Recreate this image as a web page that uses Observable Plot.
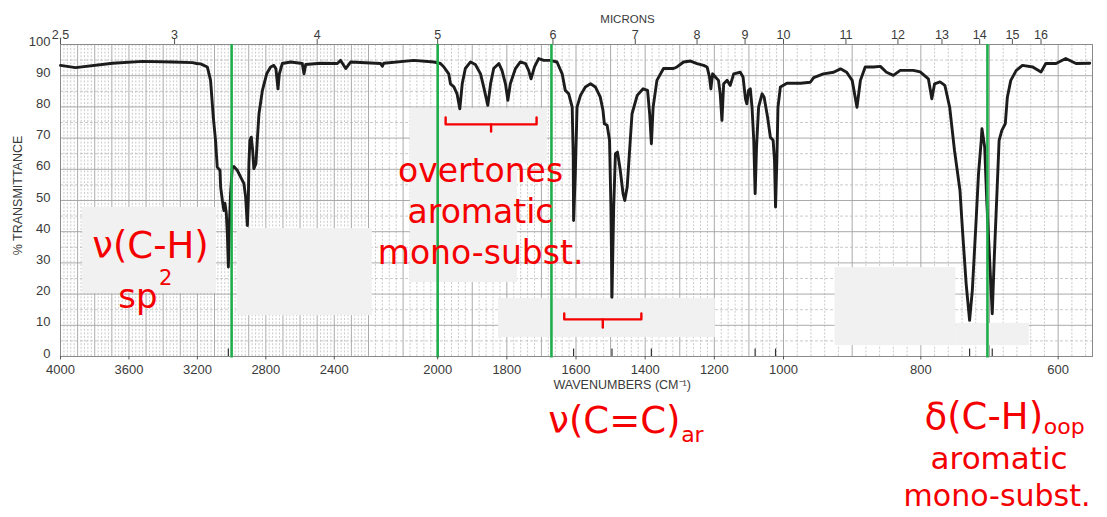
<!DOCTYPE html>
<html>
<head>
<meta charset="utf-8">
<script src="https://cdn.jsdelivr.net/npm/d3@7"></script>
<script src="https://cdn.jsdelivr.net/npm/@observablehq/plot@0.6"></script>
<style>
  html, body { margin: 0; padding: 0; background: #fff; }
  #chart svg { display: block; }
</style>
</head>
<body>
<div id="chart"></div>
<script>
// IR spectrum of a mono-substituted benzene (toluene), % transmittance vs wavenumber
const wavenumber = [
  4000, 3912, 3696, 3520, 3345, 3228, 3205, 3181, 3142, 3123, 3107, 3094, 3084, 3068, 3064, 3054,
  3045, 3039, 3031, 3025, 3019, 3012, 3006, 2996, 2987, 2967, 2947, 2928, 2918, 2908, 2902, 2899,
  2893, 2885, 2877, 2870, 2858, 2850, 2840, 2820, 2795, 2772, 2753, 2741, 2729, 2721, 2704, 2655,
  2587, 2577, 2567, 2480, 2382, 2363, 2333, 2304,
  2165, 2160, 2156, 2069, 2011, 1992, 1982, 1968, 1963, 1953, 1944, 1936, 1929, 1920, 1905, 1891,
  1876, 1867, 1855, 1847, 1838, 1823, 1814, 1804, 1797, 1790, 1775, 1761, 1746, 1737, 1730, 1720,
  1708, 1693, 1674, 1655, 1640, 1631, 1621, 1611, 1608, 1607, 1602, 1597, 1587, 1573, 1558, 1544,
  1530, 1522, 1518, 1510, 1503, 1499, 1496, 1491, 1486, 1480, 1472, 1464, 1459, 1452, 1445, 1438,
  1423, 1406, 1393, 1387, 1382, 1377, 1366, 1347, 1318, 1308, 1289, 1269, 1250, 1231, 1221, 1214,
  1210, 1205, 1197, 1188, 1183, 1178, 1173, 1163, 1154, 1144, 1125, 1117, 1110, 1106, 1101, 1096,
  1091, 1086, 1082, 1078, 1072, 1062, 1056, 1046, 1038, 1030, 1026, 1023, 1019, 1016, 1009,
  995, 975, 961, 956, 942, 927, 917, 908, 900, 893, 888, 881, 869, 859, 850, 840, 830, 811, 801,
  789, 784, 780, 772, 765, 758, 751, 743, 739, 734, 729, 725, 720, 716, 712, 711, 707, 704, 700,
  696, 693, 689, 686, 682, 677, 674, 669, 661, 652, 637, 625, 618, 603, 589, 574, 554
];
const transmittance = [
  93.3, 92.6, 94.0, 94.6, 94.4, 94.2, 93.9, 93.8, 92.8, 88.5, 76.7, 69.3, 60.7, 59.7, 54.3, 50.0,
  46.8, 49.1, 45.9, 39.5, 28.7, 43.6, 52.3, 60.7, 60.9, 59.7, 57.5, 55.4, 51.1, 42.0, 51.1, 61.8,
  69.3, 70.3, 66.1, 60.2, 61.8, 69.3, 77.8, 85.3, 90.6, 92.8, 93.3, 92.2, 85.8, 90.6, 93.9, 94.4,
  93.9, 90.6, 93.6, 94.0, 93.9, 94.9, 92.3, 94.4,
  93.9, 93.0, 94.0, 94.9, 94.4, 93.9, 92.8, 90.6, 87.4, 86.4, 84.2, 79.4, 87.4, 92.3, 94.4, 93.6,
  90.6, 86.4, 80.5, 87.4, 92.3, 93.9, 91.7, 87.4, 82.1, 87.4, 92.3, 94.4, 93.9, 91.7, 89.0, 92.8,
  95.5, 94.9, 94.9, 94.4, 90.6, 85.3, 84.2, 79.9, 63.9, 43.6, 58.7, 79.9, 83.7, 86.4, 87.4, 86.4,
  83.2, 78.9, 74.6, 74.1, 69.3, 47.9, 19.0, 47.9, 65.0, 65.5, 59.7, 52.2, 50.0, 54.3, 66.1, 77.8,
  83.7, 85.8, 85.3, 77.8, 68.2, 79.9, 88.5, 92.3, 92.3, 92.8, 94.4, 94.7, 93.9, 93.3, 92.8, 89.6,
  85.8, 90.6, 89.6, 88.5, 84.2, 75.7, 87.4, 88.5, 86.9, 90.6, 91.1, 89.6, 82.6, 81.0, 85.3, 85.8,
  79.9, 69.3, 52.2, 67.1, 79.9, 84.2, 83.1, 76.7, 70.3, 69.3, 62.9, 47.9, 63.9, 79.9, 86.4,
  87.6, 87.6, 87.9, 89.4, 90.6, 91.1, 92.2, 91.1, 88.5, 79.9, 88.5, 92.8, 92.8, 93.0, 91.1, 90.1, 91.7, 91.7, 91.2,
  89.0, 82.6, 87.4, 88.0, 86.9, 79.9, 66.1, 53.2, 39.4, 23.3, 11.6, 21.2, 41.5, 58.6, 69.3, 73.0, 67.1, 50.0, 31.9,
  13.7, 31.9, 53.2, 69.3, 72.5, 74.6, 83.1, 88.5, 91.7, 93.3, 92.8, 91.2, 93.9, 93.9, 95.5, 93.9, 94.0
];

// Axis tick values
const wavenumberTicks = [4000, 3600, 3200, 2800, 2400, 2000, 1800, 1600, 1400, 1200, 1000, 800, 600];
const micronTicks = [2.5, 3, 4, 5, 6, 7, 8, 9, 10, 11, 12, 13, 14, 15, 16];
const percentTicks = [0, 10, 20, 30, 40, 50, 60, 70, 80, 90, 100];

// Highlighted band positions (cm-1) and marked peak positions
const bandLines = [3000, 2000, 1671, 703];
const peakMarks = [3019, 1607, 1496, 1382, 1082, 1023, 729, 696];

// Light panels behind the annotations (cm-1 / %T)
const panelX1 = [3871, 2967, 2079, 2079, 1824, 925, 749];
const panelX2 = [3088, 2189, 1683, 1769, 1197, 749, 642];
const panelY1 = [20.2, 13.1, 61.9, 23.7, 6.1, 3.5, 3.5];
const panelY2 = [47.8, 41.0, 79.5, 61.9, 18.6, 28.5, 10.6];

// Brackets spanning the overtone and ring-stretch regions
const bracketFrom = [1977, 1634];
const bracketTo = [1714, 1411];
const bracketTop = [76.6, 13.8];
const bracketMid = [74.4, 11.9];
const bracketTip = [72.1, 9.3];

const spectrum = wavenumber.map((w, i) => ({w, t: transmittance[i]}));
const panels = panelX1.map((x1, i) => ({x1, x2: panelX2[i], y1: panelY1[i], y2: panelY2[i]}));
const brackets = bracketFrom.flatMap((a, i) => {
  const b = bracketTo[i], c = (a + b) / 2;
  return [
    [[a, bracketTop[i]], [a, bracketMid[i]], [b, bracketMid[i]], [b, bracketTop[i]]],
    [[c, bracketMid[i]], [c, bracketTip[i]]]
  ];
}).flatMap((pts, j) => pts.map(([x, y]) => ({x, y, id: j})));

// Chart-paper grid: every 20 cm-1 (dashed) and 100 cm-1 (solid); every 5 %T
const minorX = d3.range(560, 4000, 20).filter(v => v % 100 !== 0);
const majorX = d3.range(600, 4000, 100);
const minorY = d3.range(5, 100, 10);
const majorY = d3.range(10, 100, 10);

const axisFont = "Liberation Sans, Arial, Helvetica, sans-serif";
const noteFont = "DejaVu Sans, Verdana, sans-serif";
const axisInk = "#3a3a3a";
const red = "#f50000";
const green = "#1fae4b";

const axisText = {fontFamily: axisFont, fill: axisInk, lineAnchor: "middle"};
const noteText = {fontFamily: noteFont, fill: red, lineAnchor: "middle"};

const chart = Plot.plot({
  width: 1107,
  height: 517,
  marginLeft: 60,
  marginRight: 15,
  marginTop: 44,
  marginBottom: 161,
  style: {background: "#fff", overflow: "visible"},
  // Chart paper uses a compressed scale above 2200 cm-1 and an expanded one below 1000 cm-1
  x: {type: "linear", domain: [4000, 2200, 1000, 550], range: [60, 368, 783, 1092], axis: null},
  y: {domain: [0, 100], axis: null},
  marks: [
    Plot.ruleX(minorX, {y1: 0, y2: 100, stroke: "#b4b4b4", strokeWidth: 0.7, strokeDasharray: "2,1.6"}),
    Plot.ruleX(majorX, {y1: 0, y2: 100, stroke: "#a2a2a2", strokeWidth: 0.9}),
    Plot.ruleY(minorY, {x1: 4000, x2: 550, stroke: "#b4b4b4", strokeWidth: 0.7, strokeDasharray: "3,2"}),
    Plot.ruleY(majorY, {x1: 4000, x2: 550, stroke: "#a2a2a2", strokeWidth: 0.9}),
    Plot.frame({stroke: "#8a8a8a", strokeWidth: 1}),
    Plot.rect(panels, {x1: "x1", x2: "x2", y1: "y1", y2: "y2", fill: "#f1f1f1"}),
    Plot.ruleX(peakMarks, {y1: 0, y2: 2.4, stroke: "#333", strokeWidth: 1.2}),
    Plot.line(spectrum, {x: "w", y: "t", stroke: "#1c1c1c", strokeWidth: 2.9, strokeLinejoin: "round"}),
    Plot.ruleX(bandLines, {y1: -0.5, y2: 100, stroke: green, strokeWidth: 2.6}),
    Plot.line(brackets, {x: "x", y: "y", z: "id", stroke: red, strokeWidth: 2.4}),

    // bottom wavenumber axis
    Plot.ruleX(wavenumberTicks, {y1: 0, y2: -1.1, stroke: "#555", strokeWidth: 1}),
    Plot.text(wavenumberTicks, {x: d => d, frameAnchor: "bottom", dy: 13, text: d => String(d),
      fontSize: 13, ...axisText}),
    Plot.text(["WAVENUMBERS (CM\u207B\u00B9)"], {x: 1665, frameAnchor: "bottom", dy: 28, textAnchor: "start",
      fontSize: 12.5, ...axisText}),

    // top micron axis
    Plot.ruleX(micronTicks, {x: d => 1e4 / d, y1: 100, y2: 101.6, stroke: "#555", strokeWidth: 1}),
    Plot.text(micronTicks, {x: d => 1e4 / d, frameAnchor: "top", dy: -10, text: d => String(d),
      fontSize: 12.5, ...axisText}),
    Plot.text(["MICRONS"], {frameAnchor: "top", dx: 51, dy: -25, fontSize: 11.5, ...axisText}),

    // left %T axis
    Plot.text(percentTicks, {y: d => d, frameAnchor: "left", dx: -10, dy: -3, textAnchor: "end",
      text: d => String(d), fontSize: 13, ...axisText}),
    Plot.text(["% TRANSMITTANCE"], {frameAnchor: "left", dx: -43, dy: -5, rotate: -90, textAnchor: "middle",
      fontSize: 12.5, ...axisText}),

    // band annotations
    Plot.text(["\u03BD(C-H)"], {x: 3474, y: 35.3, fontSize: 37, ...noteText}),
    Plot.text(["sp"], {x: 3433, y: 19.0, textAnchor: "end", fontSize: 34, ...noteText}),
    Plot.text(["2"], {x: 3425, y: 25.0, textAnchor: "start", fontSize: 21, ...noteText}),
    Plot.text(["overtones\naromatic\nmono-subst."], {x: 1876, y: 47.1, lineHeight: 1.24,
      fontSize: 33, ...noteText}),
    Plot.text(["\u03BD(C=C)"], {x: 1298, y: -20.8, textAnchor: "end", fontSize: 37, ...noteText}),
    Plot.text(["ar"], {x: 1296, y: -25, textAnchor: "start", fontSize: 22, ...noteText}),
    Plot.text(["\u03B4(C-H)"], {x: 622, y: -19.3, textAnchor: "end", fontSize: 37, ...noteText}),
    Plot.text(["oop"], {x: 621, y: -22.5, textAnchor: "start", fontSize: 22, ...noteText}),
    Plot.text(["aromatic"], {x: 686, y: -32.9, fontSize: 31, ...noteText}),
    Plot.text(["mono-subst."], {x: 689, y: -44.9, fontSize: 30, ...noteText})
  ]
});

document.getElementById("chart").appendChild(chart);
</script>
</body>
</html>
